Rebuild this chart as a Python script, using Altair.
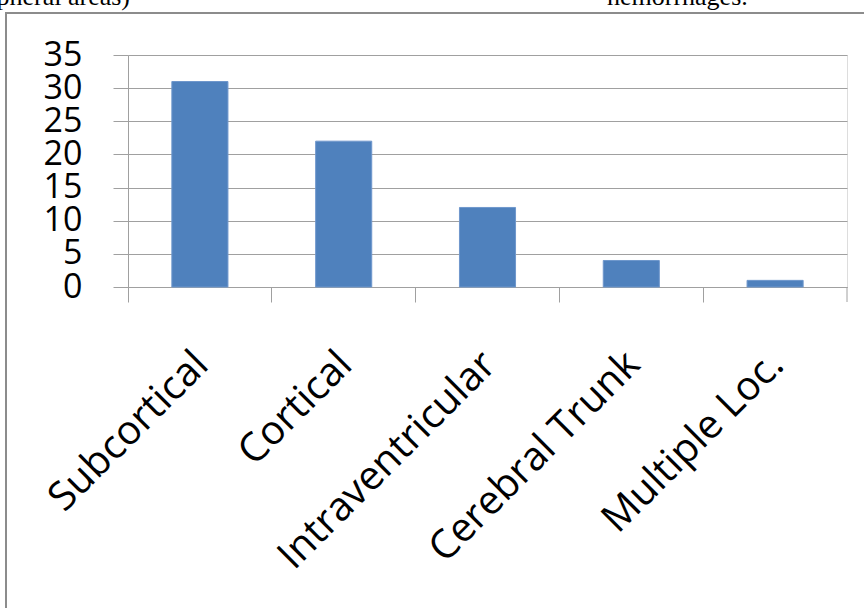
import altair as alt
import pandas as pd

# Haemorrhage locations and case counts
locations = ["Subcortical", "Cortical", "Intraventricular", "Cerebral Trunk", "Multiple Loc."]
counts = [31, 22, 12, 4, 1]
y_ticks = [0, 5, 10, 15, 20, 25, 30, 35]

# Running text from the surrounding page, partly cut off at the top edge
page_text = ["(peripheral areas)", "hemorrhages."]

GRAY = "#a0a0a0"
FRAME = "#8c8c8c"
PLOT_W, PLOT_H = 719, 232

df = pd.DataFrame({"location": locations, "count": counts})

bars = alt.Chart(df).mark_bar(
    color="#4f81bd", stroke="#6f97cc", strokeWidth=1,
    width=alt.RelativeBandSize(0.39),
).encode(
    x=alt.X(
        "location:N", sort=locations,
        scale=alt.Scale(paddingInner=0, paddingOuter=0),
        axis=alt.Axis(
            title=None, grid=False, bandPosition=0,
            tickSize=15, tickColor=GRAY, domainColor=GRAY,
            labelAngle=-45, labelAlign="right", labelBaseline="middle",
            labelOffset=2, labelPadding=56, labelLimit=0,
            labelFont="Open Sans", labelFontSize=40, labelColor="black",
            labelOverlap=False, labelBound=False, labelFlush=False,
        ),
    ),
    y=alt.Y(
        "count:Q",
        scale=alt.Scale(domain=[0, 35], nice=False, zero=True),
        axis=alt.Axis(
            title=None, values=y_ticks, grid=True, gridColor=GRAY,
            tickSize=15, tickColor=GRAY, domainColor=GRAY,
            labelFont="Open Sans", labelFontSize=34, labelColor="black",
            labelPadding=31, labelOverlap=False, labelBound=False, labelFlush=False,
        ),
    ),
)

one = alt.Data(values=[{"k": 1}])

# closing tick at the right end of the category axis
end_tick = alt.Chart(one).mark_rule(color=GRAY, strokeWidth=1).encode(
    x=alt.value(PLOT_W), y=alt.value(PLOT_H), y2=alt.value(PLOT_H + 15)
)

# chart frame
frame = alt.Chart(one).mark_rect(
    filled=False, stroke=FRAME, strokeWidth=2
).encode(
    x=alt.value(-122), x2=alt.value(PLOT_W + 60),
    y=alt.value(-42), y2=alt.value(PLOT_H + 400),
)

txt = pd.DataFrame({"t": page_text})
left_txt = alt.Chart(txt.iloc[[0]]).mark_text(
    font="Liberation Serif", fontSize=26, align="right", baseline="alphabetic", color="black"
).encode(text="t:N", x=alt.value(2), y=alt.value(-50))
right_txt = alt.Chart(txt.iloc[[1]]).mark_text(
    font="Liberation Serif", fontSize=26, align="left", baseline="alphabetic", color="black"
).encode(text="t:N", x=alt.value(479), y=alt.value(-50))

chart = alt.layer(frame, bars, end_tick, left_txt, right_txt).properties(
    width=PLOT_W, height=PLOT_H,
    autosize=alt.AutoSizeParams(type="none"),
    padding={"left": 128, "top": 55, "right": 17, "bottom": 321},
).configure_view(stroke=None).configure(background="white")

chart.save("out.html", embed_options={"renderer": "svg", "actions": False})
